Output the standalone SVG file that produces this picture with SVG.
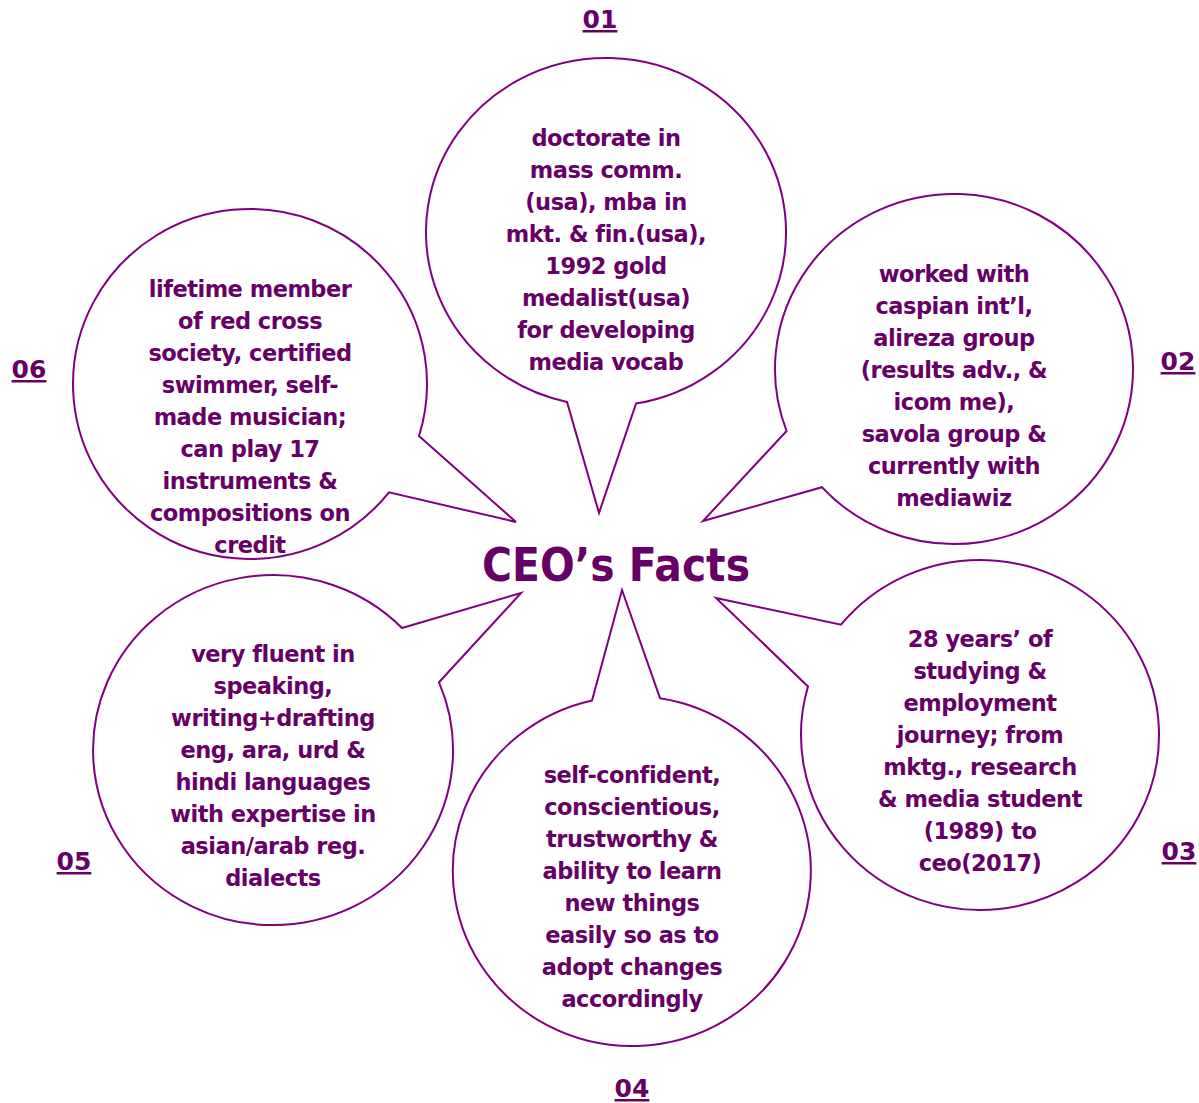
<svg xmlns="http://www.w3.org/2000/svg" width="1199" height="1103" viewBox="0 0 1199 1103">
<style>
.bub{fill:#fff;stroke:#7f007f;stroke-width:2;stroke-linejoin:miter}
.t{font-family:"DejaVu Sans",sans-serif;font-weight:bold;font-size:22.5px;letter-spacing:-0.5px;fill:#660066;text-anchor:middle}
.num{font-family:"DejaVu Sans",sans-serif;font-weight:bold;font-size:25px;fill:#660066;text-anchor:middle;text-decoration:underline}
.title{font-family:"DejaVu Sans",sans-serif;font-weight:bold;font-size:46px;fill:#660066;text-anchor:middle}
</style>
<rect width="1199" height="1103" fill="#fff"/>
<g id="connectors"></g>
<g id="node1">
<path class="bub" d="M567,401.9 L599,513 L636,403.6 A180,174 0 1 0 567,401.9 Z"/>
<text class="t"><tspan x="606" y="146">doctorate in</tspan><tspan x="606" y="178">mass comm.</tspan><tspan x="606" y="210">(usa), mba in</tspan><tspan x="606" y="242">mkt. &amp; fin.(usa),</tspan><tspan x="606" y="274">1992 gold</tspan><tspan x="606" y="306">medalist(usa)</tspan><tspan x="606" y="338">for developing</tspan><tspan x="606" y="370">media vocab</tspan></text>
<text class="num" x="600" y="28">01</text>
</g>
<g id="node2">
<path class="bub" d="M786.6,431 L703,521 L822,487.2 A179,175 0 1 0 786.6,431 Z"/>
<text class="t"><tspan x="954" y="282">worked with</tspan><tspan x="954" y="314">caspian int’l,</tspan><tspan x="954" y="346">alireza group</tspan><tspan x="954" y="378">(results adv., &amp;</tspan><tspan x="954" y="410">icom me),</tspan><tspan x="954" y="442">savola group &amp;</tspan><tspan x="954" y="474">currently with</tspan><tspan x="954" y="506">mediawiz</tspan></text>
<text class="num" x="1178" y="370">02</text>
</g>
<g id="node3">
<path class="bub" d="M808,686.5 L716,598 L841,624.7 A179,175 0 1 1 808,686.5 Z"/>
<text class="t"><tspan x="980" y="647">28 years’ of</tspan><tspan x="980" y="679">studying &amp;</tspan><tspan x="980" y="711">employment</tspan><tspan x="980" y="743">journey; from</tspan><tspan x="980" y="775">mktg., research</tspan><tspan x="980" y="807">&amp; media student</tspan><tspan x="980" y="839">(1989) to</tspan><tspan x="980" y="871">ceo(2017)</tspan></text>
<text class="num" x="1179" y="860">03</text>
</g>
<g id="node4">
<path class="bub" d="M592,700.4 L622,590 L660,698.2 A179,175 0 1 1 592,700.4 Z"/>
<text class="t"><tspan x="632" y="783">self-confident,</tspan><tspan x="632" y="815">conscientious,</tspan><tspan x="632" y="847">trustworthy &amp;</tspan><tspan x="632" y="879">ability to learn</tspan><tspan x="632" y="911">new things</tspan><tspan x="632" y="943">easily so as to</tspan><tspan x="632" y="975">adopt changes</tspan><tspan x="632" y="1007">accordingly</tspan></text>
<text class="num" x="632" y="1097">04</text>
</g>
<g id="node5">
<path class="bub" d="M402,628 L521,593 L439,682.3 A180,175 0 1 1 402,628 Z"/>
<text class="t"><tspan x="273" y="662">very fluent in</tspan><tspan x="273" y="694">speaking,</tspan><tspan x="273" y="726">writing+drafting</tspan><tspan x="273" y="758">eng, ara, urd &amp;</tspan><tspan x="273" y="790">hindi languages</tspan><tspan x="273" y="822">with expertise in</tspan><tspan x="273" y="854">asian/arab reg.</tspan><tspan x="273" y="886">dialects</tspan></text>
<text class="num" x="74" y="870">05</text>
</g>
<g id="node6">
<path class="bub" d="M419,436 L516,522 L389,492.3 A177,175 0 1 1 419,436 Z"/>
<text class="t"><tspan x="250" y="297">lifetime member</tspan><tspan x="250" y="329">of red cross</tspan><tspan x="250" y="361">society, certified</tspan><tspan x="250" y="393">swimmer, self-</tspan><tspan x="250" y="425">made musician;</tspan><tspan x="250" y="457">can play 17</tspan><tspan x="250" y="489">instruments &amp;</tspan><tspan x="250" y="521">compositions on</tspan><tspan x="250" y="553">credit</tspan></text>
<text class="num" x="29" y="378">06</text>
</g>
<g id="center">
<text class="title" x="616" y="581" textLength="268" lengthAdjust="spacingAndGlyphs">CEO’s Facts</text>
</g>
</svg>
